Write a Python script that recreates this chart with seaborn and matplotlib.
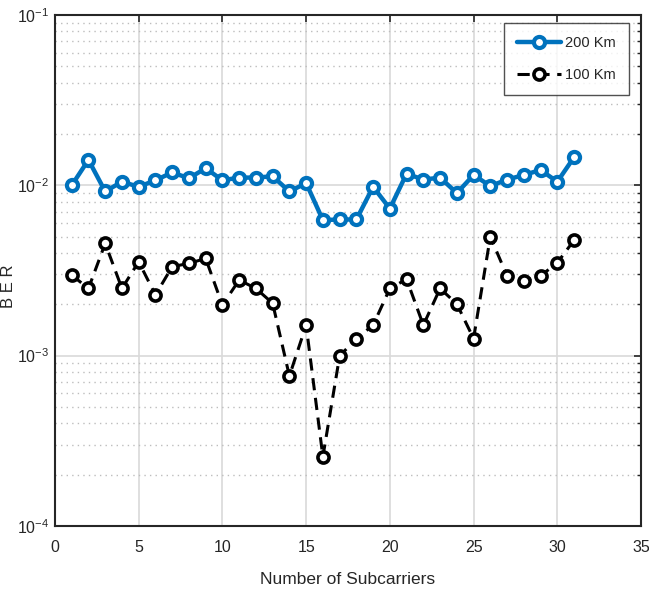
import numpy as np
import pandas as pd
import matplotlib
matplotlib.use('Agg')
import matplotlib.pyplot as plt
import matplotlib.ticker as ticker
import seaborn as sns

# ── Data ──────────────────────────────────────────────────────────────────────

subcarriers = list(range(1, 32))

ber_200km = [0.0100, 0.0141, 0.0092, 0.0105, 0.0098, 0.0107, 0.0119, 0.0110,
             0.0126, 0.0107, 0.0111, 0.0111, 0.0113, 0.0092, 0.0103, 0.00625,
             0.0063, 0.0063, 0.0098, 0.0073, 0.0117, 0.0108, 0.0111, 0.0090,
             0.0115, 0.0099, 0.0108, 0.0115, 0.0123, 0.0105, 0.0146]

ber_100km = [0.00297, 0.00248, 0.00456, 0.00248, 0.00356, 0.00227, 0.00333,
             0.00348, 0.00372, 0.00198, 0.00278, 0.00248, 0.00203, 0.00076,
             0.00151, 0.000255, 0.000995, 0.00126, 0.00151, 0.00248, 0.00281,
             0.00151, 0.00248, 0.00201, 0.00126, 0.00499, 0.00294, 0.00274,
             0.00294, 0.00351, 0.00476]

labels = ['200 Km', '100 Km']
x_ticks = [0, 5, 10, 15, 20, 25, 30, 35]
y_ticks = [1e-4, 1e-3, 1e-2, 1e-1]

COLOUR_200 = '#0072BD'
COLOUR_100 = '#000000'

# ── Style ─────────────────────────────────────────────────────────────────────

sns.set_style('white')
plt.rcParams['font.family'] = ['Liberation Sans Narrow', 'Liberation Sans', 'DejaVu Sans']
plt.rcParams['mathtext.fontset'] = 'custom'
plt.rcParams['mathtext.rm'] = 'Liberation Sans'
plt.rcParams['mathtext.default'] = 'regular'

fig = plt.figure(figsize=(6.49, 5.99), dpi=100)
ax = fig.add_axes([0.0847, 0.1219, 0.9030, 0.8531])

sns.lineplot(x=subcarriers, y=ber_200km, ax=ax, color=COLOUR_200, linewidth=3.2,
             marker='o', markersize=8, markerfacecolor='white',
             markeredgecolor=COLOUR_200, markeredgewidth=3, label=labels[0])
sns.lineplot(x=subcarriers, y=ber_100km, ax=ax, color=COLOUR_100, linewidth=2.2,
             linestyle=(0, (4, 2.5)), marker='o', markersize=8,
             markerfacecolor='white', markeredgecolor=COLOUR_100,
             markeredgewidth=2.6, label=labels[1])

ax.set_yscale('log')
ax.set_xlim(0, 35)
ax.set_ylim(1e-4, 1e-1)
ax.set_xticks(x_ticks)
ax.set_yticks(y_ticks)
ax.yaxis.set_major_formatter(ticker.FuncFormatter(lambda v, _: f'$10^{{{int(round(np.log10(v)))}}}$'))
ax.yaxis.set_minor_locator(ticker.LogLocator(base=10, subs=np.arange(2, 10)))
ax.yaxis.set_minor_formatter(ticker.NullFormatter())

ax.grid(which='major', color='#d9d9d9', linewidth=1.2, linestyle='-')
ax.grid(which='minor', axis='y', color='#bdbdbd', linewidth=1.0, linestyle=(0, (1, 3)))
ax.set_axisbelow(True)

for s in ax.spines.values():
    s.set_color('#262626')
    s.set_linewidth(1.5)

ax.tick_params(which='both', direction='in', top=True, right=True, colors='#262626',
               labelcolor='#262626', labelsize=11.5)
ax.tick_params(which='major', length=5, width=1.2)
ax.tick_params(which='minor', length=3, width=1.0)
ax.tick_params(axis='x', pad=10)
ax.tick_params(axis='y', pad=4)

ax.set_xlabel('Number of Subcarriers', fontsize=12.5, color='#262626', labelpad=12)
ax.set_ylabel('B E R', fontsize=12, color='#262626', family=['Liberation Sans', 'DejaVu Sans'])
ax.yaxis.set_label_coords(-0.066, 0.47)

leg = ax.legend(loc='upper right', bbox_to_anchor=(0.985, 0.99), fontsize=10.5,
                frameon=True, fancybox=False, edgecolor='#262626',
                handlelength=3.0, borderpad=0.9, labelspacing=1.2,
                handletextpad=0.3, borderaxespad=0.2)
leg.get_frame().set_linewidth(1.0)

fig.savefig('out.png', dpi=100)
